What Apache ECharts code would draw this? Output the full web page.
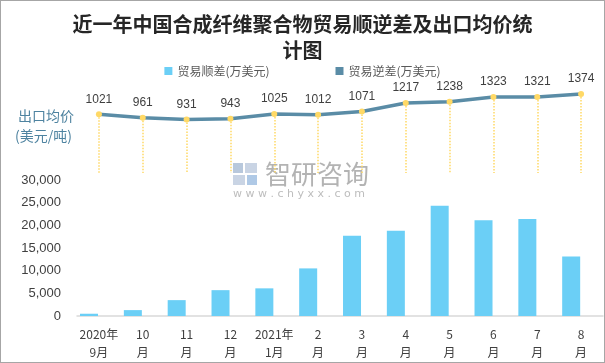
<!DOCTYPE html>
<html><head><meta charset="utf-8">
<script src="https://cdn.jsdelivr.net/npm/echarts@6/dist/echarts.min.js"></script>
<style>html,body{margin:0;padding:0;background:#fff}#c{width:605px;height:363px;box-sizing:border-box;border:1px solid #A6A6A6}</style>
</head><body><div id="c"></div>
<script>
const categories = ['2020年\n9月','10\n月','11\n月','12\n月','2021年\n1月','2\n月','3\n月','4\n月','5\n月','6\n月','7\n月','8\n月'];
const surplus = [500, 1300, 3500, 5700, 6100, 10500, 17700, 18800, 24300, 21100, 21400, 13100];
const deficit = [null, null, null, null, null, null, null, null, null, null, null, null];
const exportPrice = [1021, 961, 931, 943, 1025, 1012, 1071, 1217, 1238, 1323, 1321, 1374];
const barTicks = [0, 5000, 10000, 15000, 20000, 25000, 30000];

const chart = echarts.init(document.getElementById('c'));
const dropLines = exportPrice.map((v, i) => [{coord: [i, v]}, {coord: [i, 0]}]);
chart.setOption({
  animation: false,
  title: {
    text: '近一年中国合成纤维聚合物贸易顺逆差及出口均价统\n计图',
    left: 'center', top: 5,
    textStyle: {fontFamily: 'Noto Sans CJK SC', fontSize: 20, fontWeight: 'bold', color: '#262626', lineHeight: 26}
  },
  legend: {
    top: 59, left: 'center', itemWidth: 8, itemHeight: 8, itemGap: 66,
    icon: 'rect',
    textStyle: {fontFamily: 'Noto Sans CJK SC', fontSize: 12, color: '#595959'},
    data: ['贸易顺差(万美元)', '贸易逆差(万美元)']
  },
  grid: [
    {left: 76, right: 1, top: 179, bottom: 46},
    {left: 76, right: 1, top: 80, bottom: 189}
  ],
  xAxis: [
    {gridIndex: 0, type: 'category', data: categories,
     axisLine: {lineStyle: {color: '#D9D9D9', width: 1.5}}, axisTick: {show: false},
     axisLabel: {fontFamily: 'Noto Sans CJK SC', fontSize: 12, color: '#404040', lineHeight: 18, margin: 9, interval: 0}},
    {gridIndex: 1, type: 'category', data: categories, show: false}
  ],
  yAxis: [
    {gridIndex: 0, type: 'value', min: barTicks[0], max: barTicks[barTicks.length-1], interval: 5000,
     splitLine: {show: false}, axisLine: {show: false}, axisTick: {show: false},
     axisLabel: {fontFamily: 'Liberation Sans', fontSize: 13, color: '#404040', margin: 16,
       formatter: v => v.toLocaleString('en-US')}},
    {gridIndex: 1, type: 'value', min: 0, max: 1600, show: false}
  ],
  graphic: [
    {type: 'text', left: 17, top: 108, style: {text: '出口均价', font: '14px "Noto Sans CJK SC"', fill: '#4E83A0'}},
    {type: 'text', left: 14, top: 128, style: {text: '(美元/吨)', font: '14px "Noto Sans CJK SC"', fill: '#4E83A0'}},
    {type: 'group', left: 232, top: 160, children: [
      {type: 'rect', shape: {x: 0, y: 2, width: 10, height: 10}, style: {fill: '#B8C8DC'}},
      {type: 'rect', shape: {x: 12, y: 2, width: 12, height: 10}, style: {fill: '#C9D4E4'}},
      {type: 'rect', shape: {x: 0, y: 14, width: 12, height: 10}, style: {fill: '#C9D4E4'}},
      {type: 'rect', shape: {x: 14, y: 14, width: 10, height: 10}, style: {fill: '#AFC9E6'}},
      {type: 'text', x: 32, y: 0, style: {text: '智研咨询', font: '26px "Noto Sans CJK SC"', fill: '#B3B3B3'}},
      {type: 'text', x: 0, y: 28, style: {text: 'w w w . c h y x x . c o m', font: '11px "DejaVu Sans"', fill: '#BDBDBD'}}
    ]}
  ],
  series: [
    {name: '贸易顺差(万美元)', type: 'bar', xAxisIndex: 0, yAxisIndex: 0, data: surplus,
     barWidth: 18, itemStyle: {color: '#6BCFF6'}},
    {name: '贸易逆差(万美元)', type: 'bar', xAxisIndex: 0, yAxisIndex: 0, data: deficit,
     barWidth: 18, itemStyle: {color: '#5A8CA6'}},
    {name: '出口均价', type: 'line', xAxisIndex: 1, yAxisIndex: 1, data: exportPrice,
     symbol: 'circle', symbolSize: 6,
     lineStyle: {color: '#5A8CA6', width: 3.5},
     itemStyle: {color: '#FFD966'},
     label: {show: true, position: 'top', distance: 6, fontFamily: 'Liberation Sans', fontSize: 12, color: '#404040'},
     markLine: {silent: true, symbol: 'none', label: {show: false},
       lineStyle: {color: '#FFD966', type: 'dotted', width: 1.5}, data: dropLines},
     z: 5}
  ]
});
</script></body></html>
